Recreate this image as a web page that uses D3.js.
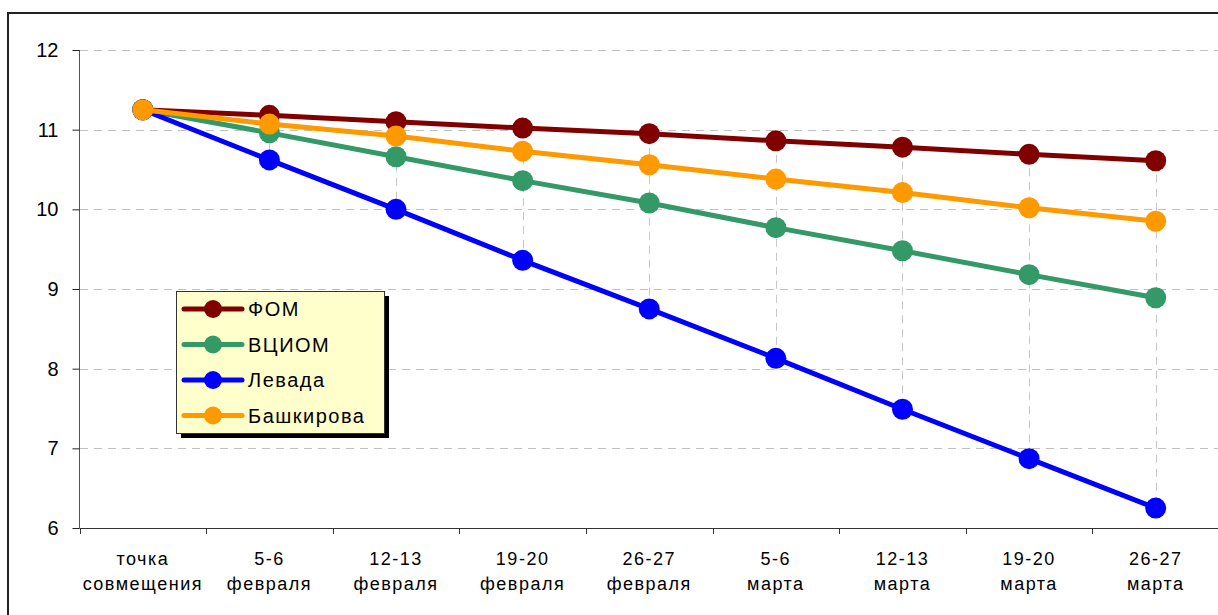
<!DOCTYPE html>
<html>
<head>
<meta charset="utf-8">
<script src="https://cdn.jsdelivr.net/npm/d3@7"></script>
<style>
  body { margin: 0; background: #fff; }
  svg { font-family: "Liberation Sans", Arial, sans-serif; }
</style>
</head>
<body>
<svg id="chart" width="1218" height="615"></svg>
<script>
const categories = ['точка|совмещения', '5-6|февраля', '12-13|февраля', '19-20|февраля', '26-27|февраля',
                    '5-6|марта', '12-13|марта', '19-20|марта', '26-27|марта'];
const yTicks = [6, 7, 8, 9, 10, 11, 12];

const fom = [11.25, 11.18, 11.10, 11.02, 10.95, 10.86, 10.78, 10.69, 10.61];
const vciom = [11.25, 10.96, 10.66, 10.36, 10.08, 9.77, 9.48, 9.18, 8.89];
const levada = [11.25, 10.62, 10.00, 9.36, 8.75, 8.13, 7.49, 6.87, 6.25];
const bashkirova = [11.25, 11.07, 10.92, 10.73, 10.56, 10.38, 10.21, 10.02, 9.85];

const seriesNames = ['ФОМ', 'ВЦИОМ', 'Левада', 'Башкирова'];
const seriesColors = ['#800000', '#339966', '#0000ff', '#ff9900'];
const series = [fom, vciom, levada, bashkirova].map((values, i) => ({
  name: seriesNames[i], color: seriesColors[i], values: values
}));

const svg = d3.select('#chart');

// outer frame (cut off at right and bottom)
svg.append('rect')
    .attr('x', 8).attr('y', 13)
    .attr('width', 1230).attr('height', 620)
    .attr('fill', 'none')
    .attr('stroke', '#222')
    .attr('stroke-width', 2);

const x = d3.scaleBand()
              .domain(categories)
              .range([79.5, 1219]);

const y = d3.scaleLinear()
              .domain([6, 12])
              .range([528, 50]);

const cx = c => x(c) + x.bandwidth() / 2;

// horizontal grid
svg.append('g')
    .selectAll('line')
    .data(yTicks.filter(t => t > 6))
    .enter()
      .append('line')
      .attr('x1', 80).attr('x2', 1218)
      .attr('y1', d => Math.round(y(d)) + 0.5)
      .attr('y2', d => Math.round(y(d)) + 0.5)
      .attr('stroke', '#c0c0c0')
      .attr('stroke-dasharray', '8,6');

// high-low lines
svg.append('g')
    .selectAll('line')
    .data(categories)
    .enter()
      .append('line')
      .attr('x1', d => Math.round(cx(d)) + 0.5)
      .attr('x2', d => Math.round(cx(d)) + 0.5)
      .attr('y1', (d, i) => y(d3.max(series, s => s.values[i])))
      .attr('y2', (d, i) => y(d3.min(series, s => s.values[i])))
      .attr('stroke', '#c8c8c8')
      .attr('stroke-dasharray', '8,6');

// y axis
const yAxis = svg.append('g')
    .attr('transform', 'translate(79.5, 0)')
    .call(d3.axisLeft(y).tickValues(yTicks).tickSize(7).tickPadding(14).tickFormat(d3.format('d')));
yAxis.select('.domain').attr('stroke', '#555').attr('d', 'M0,' + y(12) + 'V' + y(6));
yAxis.selectAll('.tick line').attr('stroke', '#222');
yAxis.selectAll('text')
    .attr('font-size', 20)
    .attr('font-family', '"Liberation Sans", Arial, sans-serif')
    .attr('fill', '#000');

// x axis
const xAxis = svg.append('g')
    .attr('transform', 'translate(0,' + (Math.round(y(6)) + 0.5) + ')')
    .call(d3.axisBottom(x).tickSize(0).tickFormat(''));
xAxis.select('.domain').attr('stroke', '#333').attr('d', 'M79.5,0H1218');

svg.append('g')
    .selectAll('line')
    .data(categories)
    .enter()
      .append('line')
      .attr('x1', d => Math.round(x(d)) + 0.5)
      .attr('x2', d => Math.round(x(d)) + 0.5)
      .attr('y1', y(6))
      .attr('y2', y(6) + 6)
      .attr('stroke', '#333');

const labels = svg.append('g')
    .selectAll('text')
    .data(categories)
    .enter()
      .append('text')
      .attr('text-anchor', 'middle')
      .attr('font-size', 18)
      .attr('letter-spacing', 1.5)
      .attr('fill', '#000');

labels.selectAll('tspan')
    .data(d => d.split('|').map(t => ({ t: t, c: d })))
    .enter()
      .append('tspan')
      .attr('x', d => cx(d.c))
      .attr('y', (d, i) => 565 + i * 25)
      .text(d => d.t);

// series
const line = d3.line()
                .x((d, i) => cx(categories[i]))
                .y(d => y(d));

const groups = svg.append('g')
    .selectAll('.series')
    .data(series)
    .enter()
      .append('g')
      .classed('series', true);

groups.append('path')
    .attr('d', d => line(d.values))
    .attr('fill', 'none')
    .attr('stroke', d => d.color)
    .attr('stroke-width', 5);

groups.selectAll('circle')
    .data(d => d.values.map(v => ({ v: v, color: d.color })))
    .enter()
      .append('circle')
      .attr('cx', (d, i) => cx(categories[i]))
      .attr('cy', d => y(d.v))
      .attr('r', 10.5)
      .attr('fill', d => d.color);

// legend
const legend = svg.append('g').attr('transform', 'translate(176, 291)');

legend.append('rect')
    .attr('x', 5).attr('y', 5)
    .attr('width', 208).attr('height', 142)
    .attr('fill', '#000');

legend.append('rect')
    .attr('x', 0.5).attr('y', 0.5)
    .attr('width', 208).attr('height', 142)
    .attr('fill', '#ffffcc')
    .attr('stroke', '#333');

const entries = legend.selectAll('.entry')
    .data(series)
    .enter()
      .append('g')
      .classed('entry', true)
      .attr('transform', (d, i) => 'translate(0,' + (18 + i * 35.5) + ')');

entries.append('line')
    .attr('x1', 8).attr('x2', 66)
    .attr('stroke', d => d.color)
    .attr('stroke-width', 5)
    .attr('stroke-linecap', 'round');

entries.append('circle')
    .attr('cx', 37)
    .attr('r', 9)
    .attr('fill', d => d.color);

entries.append('text')
    .attr('x', 72)
    .attr('dy', '0.36em')
    .attr('font-size', 20)
    .attr('letter-spacing', 1.5)
    .attr('fill', '#000')
    .text(d => d.name);
</script>
</body>
</html>
